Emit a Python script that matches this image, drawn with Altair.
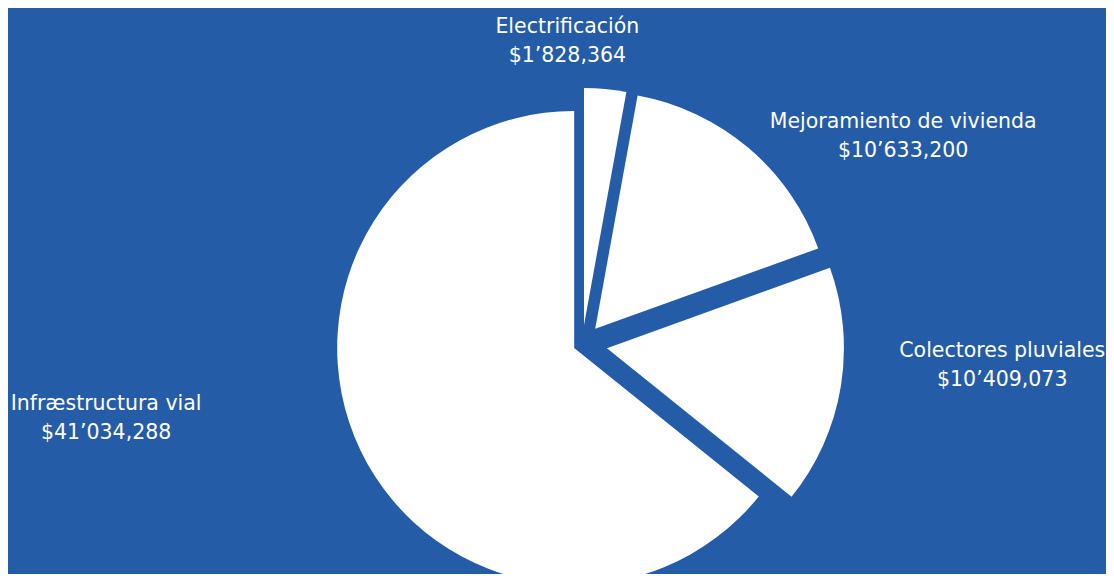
import altair as alt
import pandas as pd

# ---- data ----
categorias = ["Electrificación", "Mejoramiento de vivienda", "Colectores pluviales", "Infræstructura vial"]
montos = [1828364, 10633200, 10409073, 41034288]

# ---- style (layout parameters, not data) ----
explode = [19, 20, 25, 9]                 # px each slice is pulled out along its mid-angle
label_angle = [-2.7, 55.35, 90.95, 262.8]  # degrees, clockwise from 12 o'clock (first text line)
label_dist = [317, 390, 420, 480]          # px from pie centre
PIE_CX, PIE_CY, PIE_R = 574.3, 336, 237
BG = "#255CA7"


def fmt(v):
    parts = f"{v:,}".split(",")
    if len(parts) > 2:
        return "$" + parts[0] + "\u2019" + ",".join(parts[1:])
    return "$" + ",".join(parts)


df = pd.DataFrame({
    "categoria": categorias,
    "monto": montos,
    "orden": list(range(len(categorias))),
    "etiqueta": [f"{c}\n{fmt(v)}" for c, v in zip(categorias, montos)],
    "explode": explode,
    "lang": label_angle,
    "ldist": label_dist,
})

base = (
    alt.Chart(df)
    .transform_joinaggregate(total="sum(monto)")
    .transform_window(cum="sum(monto)", sort=[alt.SortField("orden")], frame=[None, 0])
    .transform_calculate(
        a1="datum.cum / datum.total * 2 * PI",
        a0="(datum.cum - datum.monto) / datum.total * 2 * PI",
    )
    .transform_calculate(mid="(datum.a0 + datum.a1) / 2")
    .transform_calculate(
        px=f"{PIE_CX} + datum.explode * sin(datum.mid)",
        py=f"{PIE_CY} - datum.explode * cos(datum.mid)",
        lx=f"{PIE_CX} + datum.ldist * sin(datum.lang * PI / 180)",
        ly=f"{PIE_CY} - datum.ldist * cos(datum.lang * PI / 180)",
    )
)

arcs = base.mark_arc(color="white", radius=PIE_R, stroke=None).encode(
    theta=alt.Theta("a0:Q", scale=None),
    theta2="a1:Q",
    x=alt.X("px:Q", scale=None, axis=None),
    y=alt.Y("py:Q", scale=None, axis=None),
)

labels = base.mark_text(
    color="white",
    font="DejaVu Sans",
    fontWeight="normal",
    fontSize=20.5,
    lineHeight=29,
    align="center",
    baseline="middle",
    lineBreak="\n",
).encode(
    x=alt.X("lx:Q", scale=None, axis=None),
    y=alt.Y("ly:Q", scale=None, axis=None),
    text="etiqueta:N",
)

chart = (
    alt.layer(arcs, labels)
    .properties(
        width=1098,
        height=566,
        padding=0,
        background=BG,
        autosize=alt.AutoSizeParams(type="fit", contains="padding"),
    )
    .configure_view(stroke=None)
)

chart.save("out.html", embed_options={"renderer": "svg", "actions": False})
